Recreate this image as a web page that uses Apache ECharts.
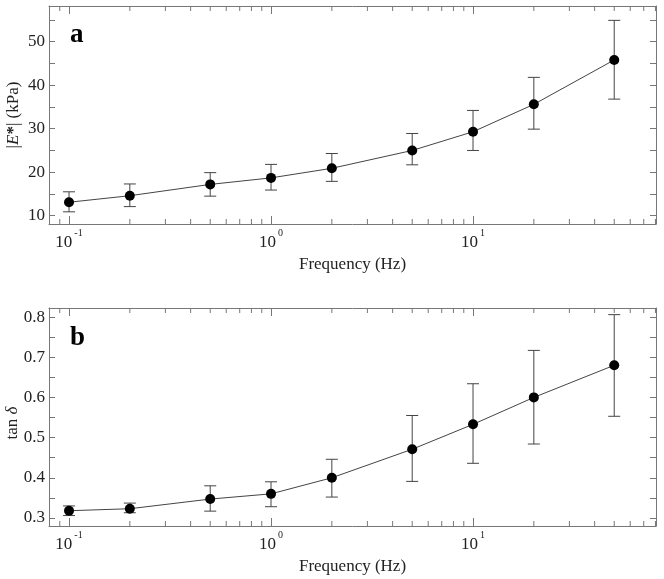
<!DOCTYPE html>
<html>
<head>
<meta charset="utf-8">
<script src="https://cdn.jsdelivr.net/npm/echarts@6/dist/echarts.min.js"></script>
<style>html,body{margin:0;padding:0;background:#fff}#c{width:664px;height:579px}</style>
</head>
<body>
<div id="c"></div>
<script>
// ---- data ----
const freq = [0.1, 0.2, 0.5, 1, 2, 5, 10, 20, 50];
const modulus = [13.1, 14.6, 17.2, 18.7, 20.9, 25.0, 29.3, 35.6, 45.8];
const modulusLow = [10.9, 12.1, 14.5, 15.9, 17.9, 21.7, 25.0, 29.9, 36.8];
const modulusHigh = [15.5, 17.3, 19.9, 21.8, 24.3, 28.9, 34.2, 41.8, 54.9];
const tanDelta = [0.318, 0.323, 0.347, 0.360, 0.400, 0.471, 0.533, 0.600, 0.680];
const tanLow = [0.306, 0.313, 0.317, 0.328, 0.352, 0.391, 0.436, 0.484, 0.553];
const tanHigh = [0.330, 0.337, 0.380, 0.390, 0.446, 0.555, 0.634, 0.717, 0.806];
const minorFreqTicks = [0.09, 0.2, 0.3, 0.4, 0.5, 0.6, 0.7, 0.8, 0.9, 2, 3, 4, 5, 6, 7, 8, 9, 20, 30, 40, 50, 60, 70, 80];
const panelLabels = ['a', 'b'];
const xName = 'Frequency (Hz)';
const yNames = ['|{i|E}{n|*}| (kPa)', 'tan {i|δ}'];
const xRange = [0.0796, 80.5];
const yRanges = [[8.1, 58.2], [0.28, 0.8225]];

const FONT = 'Liberation Serif';
const TXT = '#222';
const FRAME = '#777';
const FS = 17;
const yNameGaps = [27, 28];
const yNamePads = [[0, 0, 0, 0], [0, 12, 0, 0]];

const chart = echarts.init(document.getElementById('c'), null, {renderer: 'canvas'});

function logLabel(v) {
  const e = Math.log10(v);
  const r = Math.round(e);
  if (Math.abs(e - r) > 1e-6) return '';
  return '{b|10}{s|' + r + '}';
}

const grids = [
  {left: 49, top: 6, right: 8, height: 218},
  {left: 49, top: 308, right: 8, height: 218}
];

const xAxes = [], yAxes = [], series = [];
grids.forEach((g, gi) => {
  ['bottom', 'top'].forEach((pos) => {
    xAxes.push({
      type: 'log', gridIndex: gi, position: pos, logBase: 10,
      min: xRange[0], max: xRange[1],
      axisLine: {show: true, lineStyle: {color: FRAME}},
      axisTick: {show: true, inside: true, length: 8, lineStyle: {color: FRAME}},
      splitLine: {show: false}, minorTick: {show: false},
      axisLabel: pos === 'bottom' ? {
        show: true, margin: 4, formatter: logLabel, showMinLabel: false, showMaxLabel: false,
        rich: {
          b: {fontFamily: FONT, fontSize: FS, color: TXT},
          s: {fontFamily: FONT, fontSize: 10, color: TXT, padding: [0, 0, 20, 2]}
        }
      } : {show: false},
      name: pos === 'bottom' ? xName : '',
      nameLocation: 'middle', nameGap: 32, nameMoveOverlap: false,
      nameTextStyle: {fontFamily: FONT, fontSize: FS, color: TXT}
    });
  });
  ['left', 'right'].forEach((pos) => {
    yAxes.push({
      type: 'value', gridIndex: gi, position: pos,
      min: yRanges[gi][0], max: yRanges[gi][1], splitNumber: 5,
      axisLine: {show: true, lineStyle: {color: FRAME}},
      axisTick: {show: true, inside: true, length: 6, lineStyle: {color: FRAME}},
      minorTick: {show: true, splitNumber: 2, length: 6, lineStyle: {color: FRAME}},
      splitLine: {show: false},
      axisLabel: pos === 'left' ? {
        show: true, margin: 4, showMinLabel: false, showMaxLabel: false,
        fontFamily: FONT, fontSize: FS, color: TXT
      } : {show: false},
      name: pos === 'left' ? yNames[gi] : '',
      nameLocation: 'middle', nameGap: yNameGaps[gi], nameMoveOverlap: false,
      nameTextStyle: {
        fontFamily: FONT, fontSize: FS, color: TXT, padding: yNamePads[gi],
        rich: {
          i: {fontFamily: FONT, fontSize: FS, fontStyle: 'italic', color: TXT},
          n: {fontFamily: FONT, fontSize: FS, fontWeight: 'bold', color: TXT}
        }
      }
    });
  });
});

function errorBarSeries(xi, yi, lows, highs) {
  return {
    type: 'custom', xAxisIndex: xi, yAxisIndex: yi, z: 2,
    data: freq.map((f, i) => [f, lows[i], highs[i]]),
    encode: {x: 0, y: [1, 2]},
    renderItem: function (params, api) {
      const x = api.value(0);
      const lo = api.coord([x, api.value(1)]);
      const hi = api.coord([x, api.value(2)]);
      const w = 6;
      const st = {stroke: '#444', lineWidth: 1};
      return {
        type: 'group',
        children: [
          {type: 'line', shape: {x1: lo[0], y1: lo[1], x2: hi[0], y2: hi[1]}, style: st},
          {type: 'line', shape: {x1: lo[0] - w, y1: lo[1], x2: lo[0] + w, y2: lo[1]}, style: st},
          {type: 'line', shape: {x1: hi[0] - w, y1: hi[1], x2: hi[0] + w, y2: hi[1]}, style: st}
        ]
      };
    }
  };
}

function minorTickSeries(xi, yi, yVal) {
  return {
    type: 'custom', xAxisIndex: xi, yAxisIndex: yi, z: 1, silent: true,
    data: minorFreqTicks.map((v) => [v, yVal]),
    encode: {x: 0, y: 1},
    renderItem: function (params, api) {
      const cs = params.coordSys;
      const px = api.coord([api.value(0), api.value(1)])[0];
      const st = {stroke: FRAME, lineWidth: 1};
      const L = 5;
      return {
        type: 'group',
        children: [
          {type: 'line', shape: {x1: px, y1: cs.y + cs.height, x2: px, y2: cs.y + cs.height - L}, style: st},
          {type: 'line', shape: {x1: px, y1: cs.y, x2: px, y2: cs.y + L}, style: st}
        ]
      };
    }
  };
}

const panels = [
  {values: modulus, lows: modulusLow, highs: modulusHigh},
  {values: tanDelta, lows: tanLow, highs: tanHigh}
];
panels.forEach((p, gi) => {
  const xi = gi * 2, yi = gi * 2;
  series.push(minorTickSeries(xi, yi, yRanges[gi][0] + (yRanges[gi][1] - yRanges[gi][0]) / 2));
  series.push(errorBarSeries(xi, yi, p.lows, p.highs));
  series.push({
    type: 'line', xAxisIndex: xi, yAxisIndex: yi, z: 3,
    data: freq.map((f, i) => [f, p.values[i]]),
    symbol: 'circle', symbolSize: 10, showSymbol: true,
    lineStyle: {color: '#444', width: 1},
    itemStyle: {color: '#000', borderWidth: 0},
    animation: false
  });
});

const option = {
  animation: false,
  backgroundColor: '#fff',
  grid: grids.map((g) => Object.assign({show: false, containLabel: false, outerBoundsMode: 'none'}, g)),
  xAxis: xAxes,
  yAxis: yAxes,
  title: panelLabels.map((t, i) => ({
    text: t, left: 65, top: i === 0 ? 17 : 320,
    textStyle: {fontFamily: FONT, fontWeight: 'bold', fontSize: 27, color: '#000'}
  })),
  series: series
};
chart.setOption(option);
</script>
</body>
</html>
